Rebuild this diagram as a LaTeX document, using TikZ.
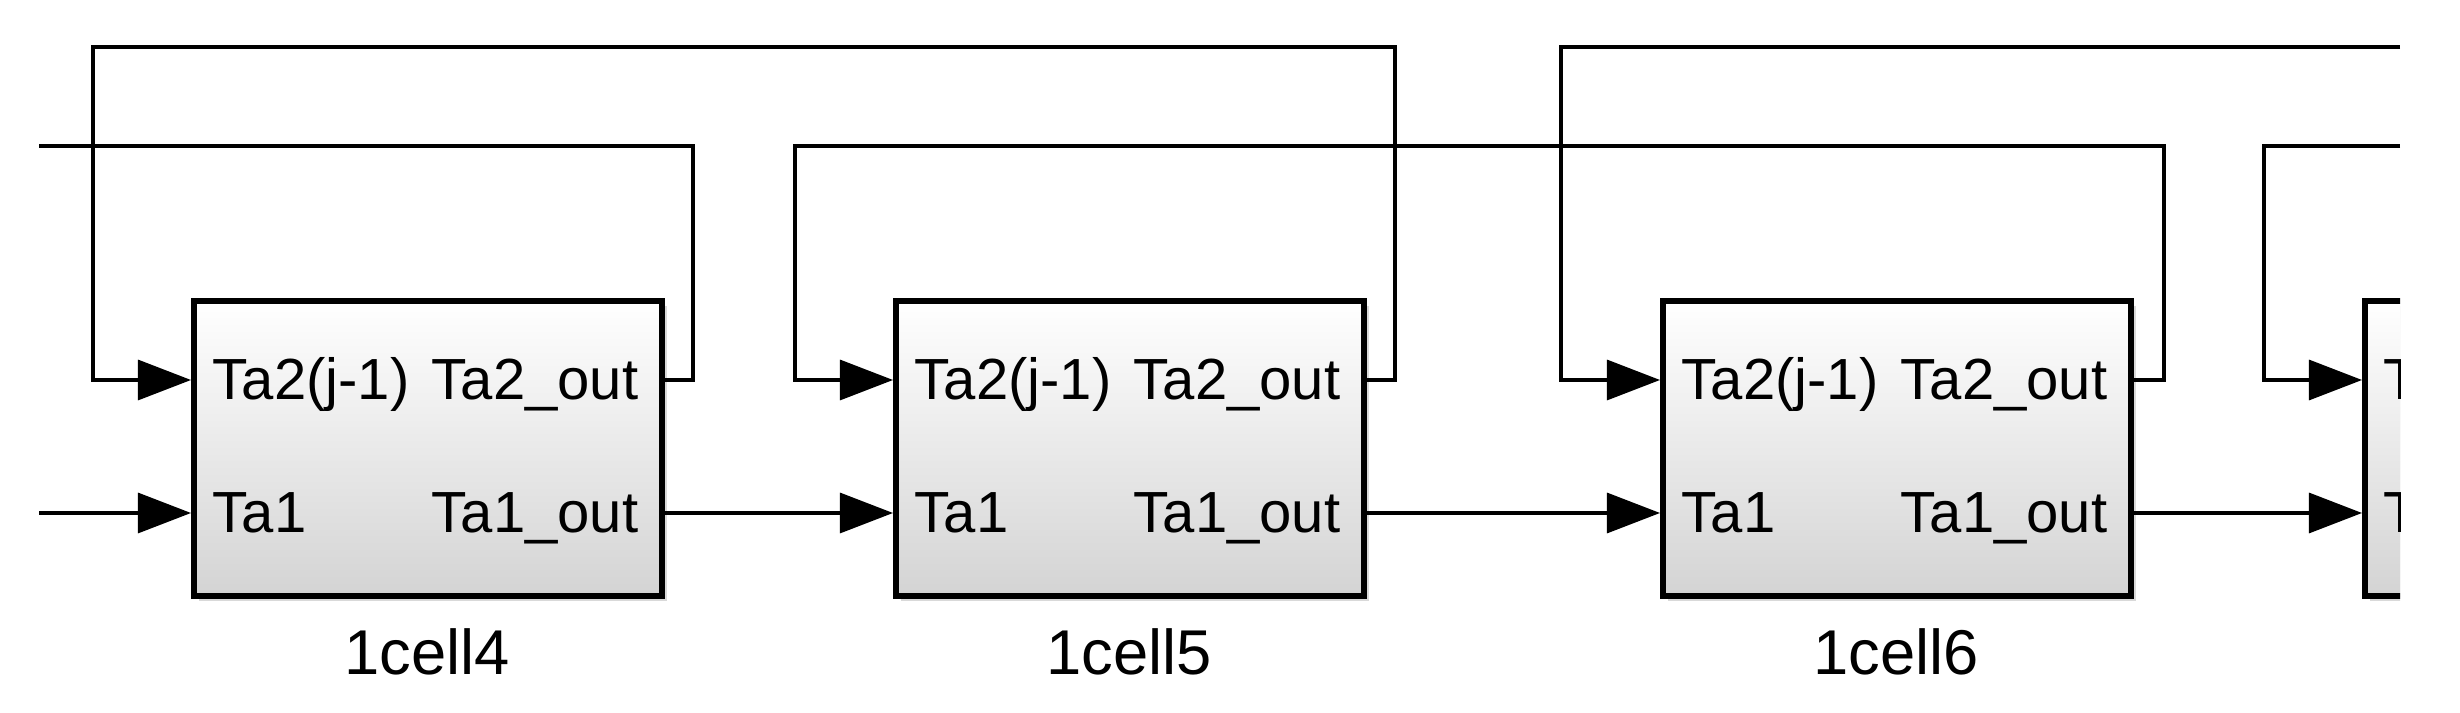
\documentclass[tikz,border=0pt]{standalone}
\usepackage{fontspec}
\setmainfont{Liberation Sans}
\usetikzlibrary{arrows.meta,shadows}
\begin{document}
\begin{tikzpicture}[x=0.01cm,y=-0.01cm,
  blk/.style={draw=black,line width=1.7pt,top color=white,bottom color=black!17,
    minimum width=4.68cm,minimum height=2.95cm,inner sep=0pt,anchor=north west,
    drop shadow={shadow xshift=0.05cm,shadow yshift=-0.05cm,opacity=0.3}},
  w/.style={line width=0.9pt},
  arr/.style={w,-{Triangle[length=0.53cm,width=0.4cm]}},
  lbl/.style={font=\fontsize{16.5pt}{18pt}\selectfont,inner sep=0pt},
  celltxt/.style={font=\fontsize{18pt}{20pt}\selectfont,inner sep=0pt}]
\useasboundingbox (0,0) rectangle (2460,713);
\begin{scope}
\clip (0,0) rectangle (2400,713);
\foreach \n/\x/\c in {1/191/1cell4,2/893/1cell5,3/1660/1cell6,4/2362/{}}{
  \node[blk] (b\n) at (\x,298) {};
  \coordinate (i\n u) at (\x,380);
  \coordinate (i\n l) at (\x,513);
  \coordinate (o\n u) at (\x+468,380);
  \coordinate (o\n l) at (\x+468,513);
  \node[lbl,anchor=base west] (tu\n) at (\x+21,400) {Ta2(j-1)};
  \node[lbl,anchor=base west] (tl\n) at (\x+21,533) {Ta1};
  \node[lbl,anchor=base east] (ru\n) at (\x+448,400) {Ta2\_out};
  \node[lbl,anchor=base east] (rl\n) at (\x+448,533) {Ta1\_out};
  \node[celltxt] (c\n) at (\x+236,652) {\c};
}
\coordinate (s) at (39,513);
\coordinate (t) at (39,146);
\coordinate (e1) at (2400,47);
\coordinate (e2) at (2400,146);
\draw[arr] (s) -- (i1l);
\draw[arr] (o1l) -- (i2l);
\draw[arr] (o2l) -- (i3l);
\draw[arr] (o3l) -- (i4l);
\draw[arr] (o2u) -- (1395,380) -- (1395,47) -- (93,47) -- (93,380) -- (i1u);
\draw[w] (t) -- (693,146) -- (693,380) -- (o1u);
\draw[arr] (o3u) -- (2164,380) -- (2164,146) -- (795,146) -- (795,380) -- (i2u);
\draw[arr] (e1) -- (1561,47) -- (1561,380) -- (i3u);
\draw[arr] (e2) -- (2264,146) -- (2264,380) -- (i4u);
\end{scope}
\end{tikzpicture}
\end{document}
